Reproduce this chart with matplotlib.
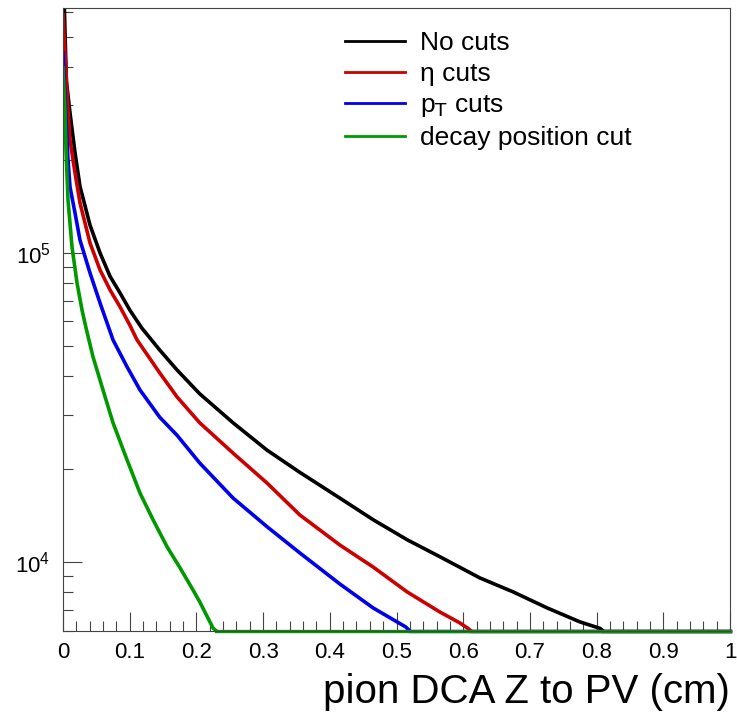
import numpy as np
import matplotlib
matplotlib.use("Agg")
import matplotlib.pyplot as plt
from matplotlib.ticker import MultipleLocator, LogLocator, NullFormatter, LogFormatterSciNotation

plt.rcParams['font.family'] = ['Liberation Sans', 'DejaVu Sans']

# histogram contents (x in cm, counts)
nocuts_x = [0.0, 0.005, 0.0105, 0.018, 0.0255, 0.0405, 0.0555, 0.0705, 0.0855, 0.100, 0.118,
            0.145, 0.171, 0.205, 0.255, 0.306, 0.355, 0.415, 0.465, 0.516, 0.565, 0.625,
            0.675, 0.726, 0.775, 0.805]
nocuts = [9.0e5, 3.6e5, 2.84e5, 2.11e5, 1.64e5, 1.23e5, 1.0e5, 8.4e4, 7.42e4, 6.54e4, 5.72e4,
          4.85e4, 4.18e4, 3.50e4, 2.82e4, 2.30e4, 1.95e4, 1.61e4, 1.37e4, 1.18e4, 1.04e4, 8.88e3,
          8.0e3, 7.1e3, 6.4e3, 6.1e3]

eta_x = [0.0, 0.0075, 0.0105, 0.018, 0.0255, 0.0405, 0.0555, 0.0705, 0.0855, 0.100, 0.111,
         0.145, 0.171, 0.205, 0.255, 0.306, 0.355, 0.415, 0.465, 0.516, 0.565, 0.595, 0.607]
eta = [5.9e5, 2.9e5, 2.32e5, 1.815e5, 1.45e5, 1.077e5, 8.81e4, 7.59e4, 6.69e4, 5.85e4, 5.23e4,
       4.09e4, 3.42e4, 2.82e4, 2.25e4, 1.80e4, 1.42e4, 1.135e4, 9.63e3, 8.0e3, 6.89e3, 6.35e3, 6.1e3]

pt_x = [0.0, 0.0075, 0.0105, 0.018, 0.0255, 0.0405, 0.0555, 0.075, 0.096, 0.1155, 0.145,
        0.171, 0.205, 0.255, 0.306, 0.355, 0.415, 0.465, 0.514]
pt = [4.44e5, 2.0e5, 1.635e5, 1.347e5, 1.10e5, 8.61e4, 6.89e4, 5.23e4, 4.28e4, 3.60e4, 2.94e4,
      2.57e4, 2.09e4, 1.61e4, 1.30e4, 1.07e4, 8.49e3, 7.10e3, 6.16e3]

decay_x = [0.0, 0.003, 0.0045, 0.0075, 0.0135, 0.021, 0.0285, 0.0345, 0.045, 0.060, 0.075,
           0.096, 0.1155, 0.135, 0.156, 0.1755, 0.195, 0.205, 0.225]
decay = [3.97e5, 2.9e5, 2.15e5, 1.484e5, 1.046e5, 8.0e4, 6.54e4, 5.72e4, 4.61e4, 3.60e4, 2.82e4,
         2.14e4, 1.67e4, 1.37e4, 1.12e4, 9.57e3, 8.11e3, 7.43e3, 6.11e3]

# where each histogram falls to zero
ends = [0.81, 0.612, 0.52, 0.23]
labels = ['No cuts', '\u03b7 cuts', r'p$_{\mathrm{T}}$ cuts', 'decay position cut']
colors = ['black', '#cc0000', '#0000ee', '#009900']

ymin, ymax = 5980, 6.2e5

fig = plt.figure(figsize=(7.37, 7.14), dpi=100)
ax = fig.add_axes([63/737, 1-631/714, 667/737, 623/714])

series = [(nocuts_x, nocuts), (eta_x, eta), (pt_x, pt), (decay_x, decay)]
for (xs, ys), xend, lab, col in zip(series, ends, labels, colors):
    ax.plot(xs + [xend], ys + [ymin], color=col, lw=2.6, label=lab)
    # empty bins sit on the bottom edge
    ax.plot([xend, 1.0], [ymin, ymin], color=col, lw=2.4, clip_on=False)

ax.set_yscale('log')
ax.set_xlim(0, 1)
ax.set_ylim(ymin, ymax)

ax.xaxis.set_major_locator(MultipleLocator(0.1))
ax.xaxis.set_minor_locator(MultipleLocator(0.02))
ax.xaxis.set_major_formatter(plt.FuncFormatter(lambda v, p: '%g' % round(v, 2)))
ax.yaxis.set_major_locator(LogLocator(base=10))
ax.yaxis.set_major_formatter(LogFormatterSciNotation())
ax.yaxis.set_minor_locator(LogLocator(base=10, subs=np.arange(2, 10)))
ax.yaxis.set_minor_formatter(NullFormatter())

ax.tick_params(which='both', direction='in', top=False, right=False, color='#444444',
               labelsize=16, width=0.8)
ax.tick_params(axis='x', which='major', length=14, pad=8)
ax.tick_params(axis='x', which='minor', length=7)
ax.tick_params(axis='y', which='major', length=14, pad=9)
ax.tick_params(axis='y', which='minor', length=7)
for s in ax.spines.values():
    s.set_color('#444444')
    s.set_linewidth(0.8)

leg = ax.legend(loc='upper left', bbox_to_anchor=((345-63)/667, (631-31)/623),
                frameon=False, fontsize=19, handlelength=2.27, handletextpad=0.57,
                labelspacing=0.27, borderpad=0, borderaxespad=0)
for h in leg.get_lines():
    h.set_linewidth(2.0)

fig.text(730/737, 11/714, 'pion DCA Z to PV (cm)', ha='right', va='baseline', fontsize=29)

fig.savefig('out.png', dpi=100)
